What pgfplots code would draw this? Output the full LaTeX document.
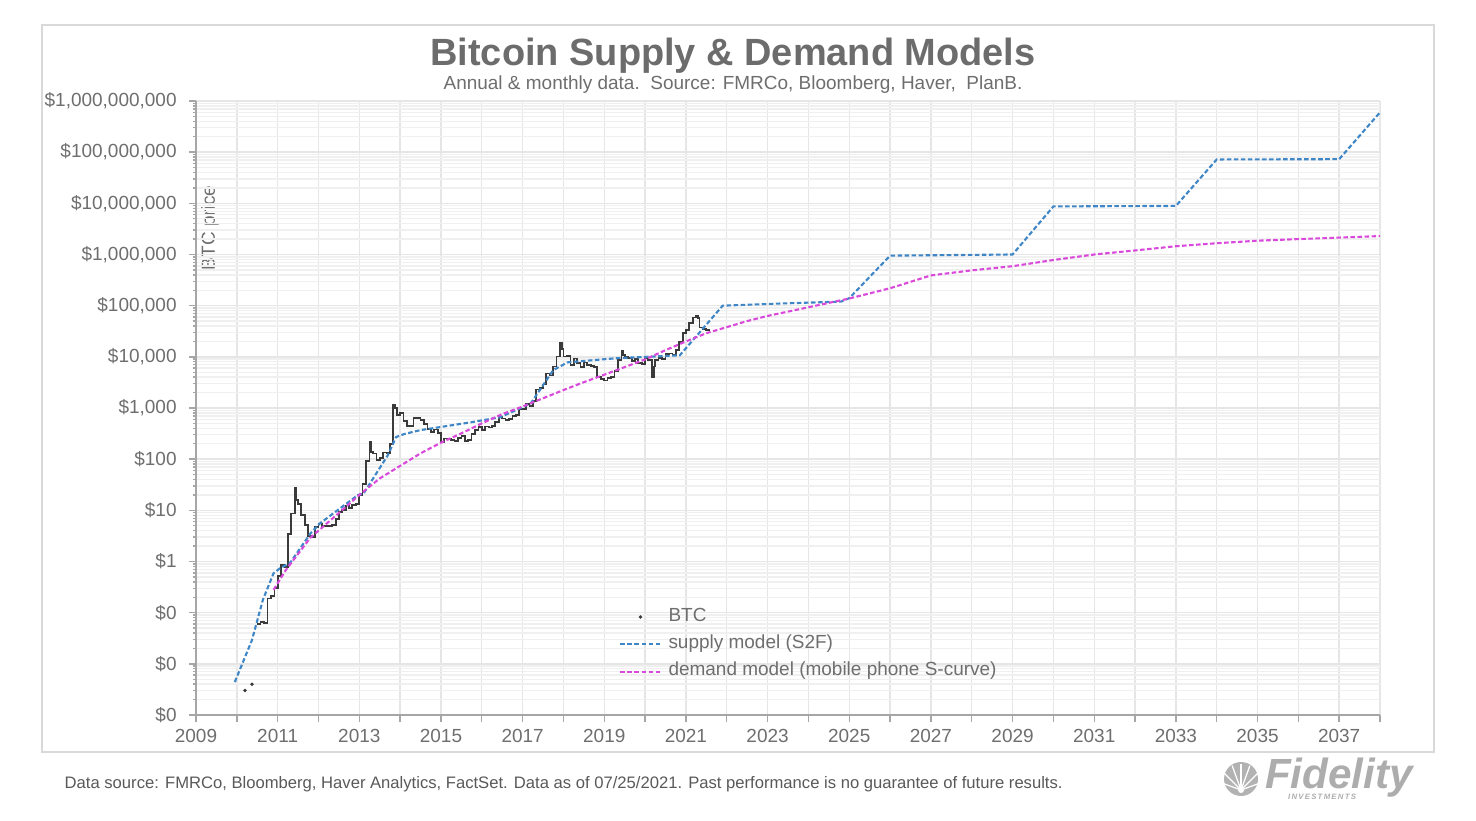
\documentclass[border=0pt]{standalone}
\usepackage{fontspec}
\setmainfont{Liberation Sans}
\usepackage{pgfplots}
\pgfplotsset{compat=1.18}
\definecolor{txtgray}{HTML}{6E6E6E}
\definecolor{titlegray}{HTML}{6C6C6C}
\definecolor{s2fblue}{HTML}{3E86C6}
\definecolor{demmag}{HTML}{D94ADB}
\definecolor{btcblack}{HTML}{3A3A3A}
\definecolor{gridc}{HTML}{E6E6E6}
\definecolor{gridm}{HTML}{F0F0F0}
\begin{document}
\begin{tikzpicture}
\path[use as bounding box] (0,0) rectangle (14.76cm,8.20cm);
\draw[draw=black!15, line width=0.4pt] (0.42cm,0.68cm) rectangle (14.34cm,7.95cm);
\node[font=\fontsize{10.8}{12}\selectfont\bfseries, text=titlegray] at (7.33cm,7.64cm) {Bitcoin Supply \& Demand Models};
\node[font=\fontsize{5.4}{6.5}\selectfont, text=txtgray] at (7.33cm,7.355cm) {Annual \& monthly data.\ \ Source: FMRCo, Bloomberg, Haver,\ \ PlanB.};
\node[font=\fontsize{4.73}{6}\selectfont, text=black!65, anchor=west, inner sep=0pt] at (0.64cm,0.36cm) {Data source: FMRCo, Bloomberg, Haver Analytics, FactSet. Data as of 07/25/2021. Past performance is no guarantee of future results.};
% Fidelity logo
\fill[black!30] (12.41cm,0.41cm) circle (0.17cm);
\foreach \a in {20,45,70,90,110,135,160}{\draw[white, line width=0.35pt] (12.41cm,0.30cm) -- ++(\a:0.26cm);}
\fill[white] (12.41cm,0.30cm) circle (0.03cm);
\node[font=\fontsize{12}{13}\selectfont\bfseries\itshape, text=black!32, inner sep=0pt] at (13.39cm,0.42cm) {Fidelity};
\node[font=\fontsize{2.2}{3}\selectfont\bfseries\itshape, text=black!32, inner sep=0pt] at (13.22cm,0.23cm) {I\,N\,V\,E\,S\,T\,M\,E\,N\,T\,S};
\node[font=\fontsize{5.4}{6.5}\selectfont, text=txtgray, rotate=90] at (2.10cm,5.92cm) {BTC price};
\begin{axis}[
  at={(1.96cm,1.05cm)}, anchor=south west,
  scale only axis, width=11.84cm, height=6.14cm,
  ymode=log, xmin=2009, xmax=2038, ymin=1e-3, ymax=1e9,
  axis x line*=bottom, axis y line*=left,
  axis line style={draw=black!35, -},
  xtick={2009,2010,...,2038},
  xticklabels={2009,,2011,,2013,,2015,,2017,,2019,,2021,,2023,,2025,,2027,,2029,,2031,,2033,,2035,,2037,},
  minor x tick num=1,
  ytick={1e-3,1e-2,1e-1,1,10,100,1000,1e4,1e5,1e6,1e7,1e8,1e9},
  yticklabels={\$0,\$0,\$0,\$1,\$10,\$100,\$1{,}000,\$10{,}000,\$100{,}000,\$1{,}000{,}000,\$10{,}000{,}000,\$100{,}000{,}000,\$1{,}000{,}000{,}000},
  minor ytick={2e-3,3e-3,4e-3,5e-3,6e-3,7e-3,8e-3,9e-3,
    2e-2,3e-2,4e-2,5e-2,6e-2,7e-2,8e-2,9e-2,
    0.2,0.3,0.4,0.5,0.6,0.7,0.8,0.9,
    2,3,4,5,6,7,8,9,
    20,30,40,50,60,70,80,90,
    200,300,400,500,600,700,800,900,
    2e3,3e3,4e3,5e3,6e3,7e3,8e3,9e3,
    2e4,3e4,4e4,5e4,6e4,7e4,8e4,9e4,
    2e5,3e5,4e5,5e5,6e5,7e5,8e5,9e5,
    2e6,3e6,4e6,5e6,6e6,7e6,8e6,9e6,
    2e7,3e7,4e7,5e7,6e7,7e7,8e7,9e7,
    2e8,3e8,4e8,5e8,6e8,7e8,8e8,9e8},
  xmajorgrids, ymajorgrids, yminorgrids,
  major grid style={draw=gridc, line width=0.4pt},
  minor grid style={draw=gridm, line width=0.4pt},
  tick align=outside,
  major tick length=0.7mm, minor tick length=0.35mm,
  tick style={draw=black!35, line width=0.4pt},
  ticklabel style={font=\fontsize{5.4}{6.5}\selectfont, text=txtgray},
  xticklabel style={yshift=0.5mm},
  legend style={at={(0.354,0.193)}, anchor=north west, draw=none, fill=none,
    font=\fontsize{5.4}{6.5}\selectfont, text=txtgray, row sep=-1.6pt, inner sep=1pt},
  legend cell align=left,
  legend image code/.code={\draw[#1] (0cm,0cm) -- (0.4cm,0cm);},
]
% BTC monthly price
\addplot[const plot, btcblack, line width=0.5pt, forget plot] table {
2010.50 0.06
2010.58 0.065
2010.67 0.062
2010.75 0.19
2010.83 0.21
2010.92 0.30
2011.00 0.52
2011.08 0.86
2011.17 0.78
2011.25 3.5
2011.33 8.7
2011.42 28
2011.46 16
2011.50 13.4
2011.58 8.2
2011.67 5.1
2011.75 3.2
2011.83 3.0
2011.92 4.7
2012.00 5.5
2012.08 4.9
2012.17 4.9
2012.25 5.0
2012.33 5.2
2012.42 6.7
2012.50 9.3
2012.58 10.2
2012.67 12.4
2012.75 11.2
2012.83 12.6
2012.92 13.5
2013.00 20
2013.08 33
2013.17 93
2013.25 215
2013.29 139
2013.33 129
2013.42 97
2013.50 106
2013.58 135
2013.67 133
2013.75 198
2013.83 1130
2013.88 1000
2013.92 732
2014.00 800
2014.08 550
2014.17 450
2014.25 445
2014.33 630
2014.42 640
2014.50 585
2014.58 480
2014.67 387
2014.75 338
2014.83 378
2014.92 320
2015.00 217
2015.08 254
2015.17 244
2015.25 236
2015.33 230
2015.42 263
2015.50 284
2015.58 230
2015.67 236
2015.75 314
2015.83 377
2015.92 430
2016.00 368
2016.08 437
2016.17 416
2016.25 448
2016.33 531
2016.42 673
2016.50 624
2016.58 575
2016.67 608
2016.75 700
2016.83 742
2016.92 963
2017.00 970
2017.08 1190
2017.17 1080
2017.25 1348
2017.33 2300
2017.42 2480
2017.50 2875
2017.58 4700
2017.67 4340
2017.75 6470
2017.83 10200
2017.92 19000
2017.96 14150
2018.00 10200
2018.08 10300
2018.17 6900
2018.25 9240
2018.33 7500
2018.42 6400
2018.50 7730
2018.58 7030
2018.67 6630
2018.75 6300
2018.83 4020
2018.92 3740
2019.00 3460
2019.08 3850
2019.17 4100
2019.25 5300
2019.33 8570
2019.42 12900
2019.46 10800
2019.50 10100
2019.58 9600
2019.67 8300
2019.75 9200
2019.83 7550
2019.92 7200
2020.00 9350
2020.08 8600
2020.17 4000
2020.21 6440
2020.25 8630
2020.33 9450
2020.42 9140
2020.50 11350
2020.58 11650
2020.67 10780
2020.75 13800
2020.83 19700
2020.92 29000
2021.00 33100
2021.08 45100
2021.17 58800
2021.25 63000
2021.29 57700
2021.33 37300
2021.42 35000
2021.50 34000
2021.56 35000
};
\addplot[only marks, mark=*, mark size=0.25pt, btcblack, forget plot] coordinates {(2010.2,0.003) (2010.37,0.004)};
% supply model (S2F)
\addplot[s2fblue, line width=0.6pt, dash pattern=on 1.3pt off 0.7pt, forget plot] table {
2009.95 0.0044
2010.37 0.029
2010.64 0.18
2010.90 0.59
2011.06 0.74
2011.30 0.93
2011.80 3.5
2012.04 5.6
2012.97 20
2013.10 21
2013.70 120
2013.90 270
2014.10 310
2014.50 370
2015.70 520
2016.45 660
2017.20 1230
2017.75 5500
2018.10 7800
2019.30 9400
2020.85 10700
2021.90 100000
2023.30 110000
2024.80 120000
2025.00 140000
2026.00 950000
2029.00 1000000
2030.00 8700000
2033.00 8900000
2034.00 72000000
2037.00 73000000
2038.00 600000000
};
% demand model (mobile phone S-curve)
\addplot[demmag, line width=0.6pt, dash pattern=on 1.3pt off 0.7pt, forget plot] table {
2010.90 0.28
2011.20 0.68
2011.80 2.9
2012.50 8.9
2013.00 20
2013.50 42
2014.00 74
2014.50 130
2015.00 210
2015.50 320
2016.00 500
2016.50 760
2017.00 1070
2017.50 1550
2018.00 2240
2018.50 3200
2019.00 4470
2019.50 6300
2020.00 8900
2020.50 13500
2021.00 20000
2021.50 29000
2022.00 38000
2022.50 50000
2023.00 63000
2024.00 93000
2025.00 138000
2026.00 219000
2027.00 390000
2028.00 490000
2029.00 590000
2030.00 780000
2031.00 1000000
2032.00 1200000
2033.00 1450000
2034.00 1660000
2035.00 1860000
2036.00 2000000
2037.00 2140000
2038.00 2290000
};
\addlegendimage{legend image code/.code={\fill[btcblack] (0.2cm,0cm) circle (0.25pt);}}
\addlegendentry{BTC}
\addlegendimage{s2fblue, line width=0.6pt, dash pattern=on 1.3pt off 0.7pt}
\addlegendentry{supply model (S2F)}
\addlegendimage{demmag, line width=0.6pt, dash pattern=on 1.3pt off 0.7pt}
\addlegendentry{demand model (mobile phone S-curve)}
\end{axis}
\end{tikzpicture}
\end{document}
